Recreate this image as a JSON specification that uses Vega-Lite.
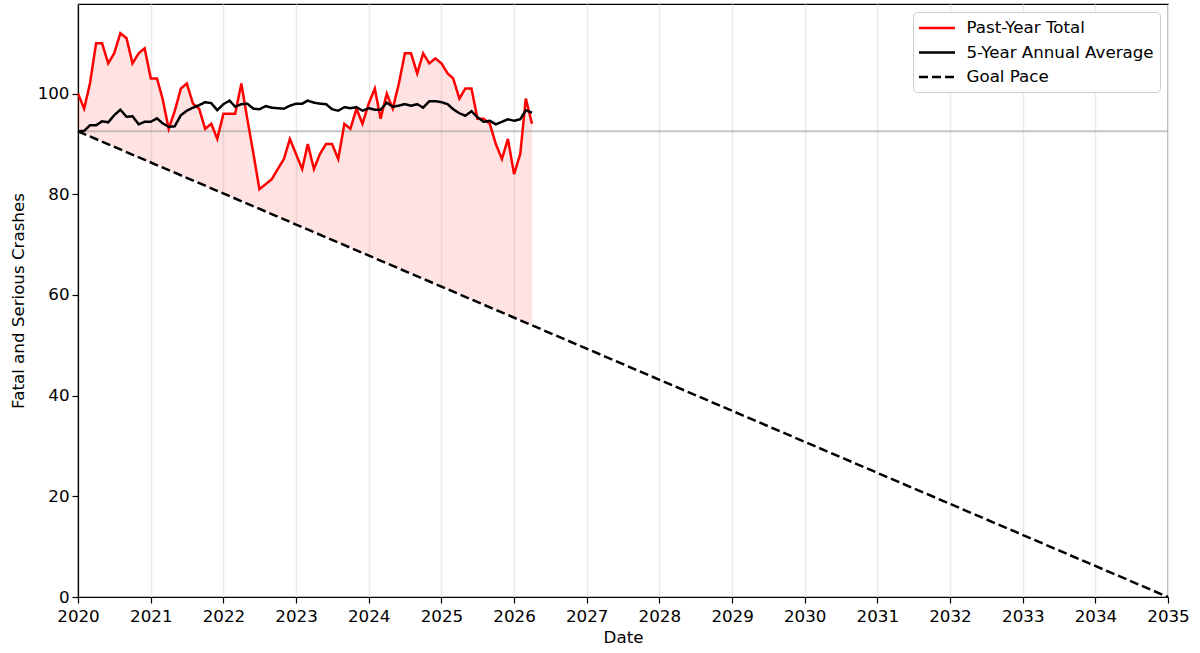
{
  "$schema": "https://vega.github.io/schema/vega-lite/v6.json",
  "width": 1090,
  "height": 593,
  "autosize": "none",
  "padding": {"left": 78, "top": 4, "right": 32, "bottom": 56},
  "background": "white",
  "config": {
    "font": "DejaVu Sans",
    "view": {"stroke": "black", "strokeWidth": 1.2},
    "axis": {
      "labelFont": "DejaVu Sans",
      "titleFont": "DejaVu Sans",
      "labelFontSize": 16.7,
      "titleFontSize": 16.7,
      "titleFontWeight": "normal",
      "labelColor": "black",
      "titleColor": "black",
      "domainColor": "black",
      "tickColor": "black",
      "tickSize": 6,
      "tickWidth": 1.2,
      "domainWidth": 1.2,
      "labelPadding": 3
    },
    "legend": {
      "labelFont": "DejaVu Sans",
      "labelFontSize": 16.7,
      "labelColor": "black"
    }
  },
  "datasets": {
    "monthly": [
      {"date": "2020-01-01", "Past-Year Total": 100, "5-Year Annual Average": 92.5, "goal": 92.5},
      {"date": "2020-02-01", "Past-Year Total": 97, "5-Year Annual Average": 92.6, "goal": 91.99},
      {"date": "2020-03-01", "Past-Year Total": 102, "5-Year Annual Average": 93.7, "goal": 91.47},
      {"date": "2020-04-01", "Past-Year Total": 110, "5-Year Annual Average": 93.7, "goal": 90.96},
      {"date": "2020-05-01", "Past-Year Total": 110, "5-Year Annual Average": 94.5, "goal": 90.44},
      {"date": "2020-06-01", "Past-Year Total": 106, "5-Year Annual Average": 94.3, "goal": 89.93},
      {"date": "2020-07-01", "Past-Year Total": 108, "5-Year Annual Average": 95.7, "goal": 89.42},
      {"date": "2020-08-01", "Past-Year Total": 112, "5-Year Annual Average": 96.8, "goal": 88.90},
      {"date": "2020-09-01", "Past-Year Total": 111, "5-Year Annual Average": 95.4, "goal": 88.39},
      {"date": "2020-10-01", "Past-Year Total": 106, "5-Year Annual Average": 95.5, "goal": 87.88},
      {"date": "2020-11-01", "Past-Year Total": 108, "5-Year Annual Average": 93.9, "goal": 87.36},
      {"date": "2020-12-01", "Past-Year Total": 109, "5-Year Annual Average": 94.4, "goal": 86.85},
      {"date": "2021-01-01", "Past-Year Total": 103, "5-Year Annual Average": 94.4, "goal": 86.33},
      {"date": "2021-02-01", "Past-Year Total": 103, "5-Year Annual Average": 95.1, "goal": 85.82},
      {"date": "2021-03-01", "Past-Year Total": 99, "5-Year Annual Average": 94.1, "goal": 85.31},
      {"date": "2021-04-01", "Past-Year Total": 93, "5-Year Annual Average": 93.4, "goal": 84.79},
      {"date": "2021-05-01", "Past-Year Total": 96.5, "5-Year Annual Average": 93.5, "goal": 84.28},
      {"date": "2021-06-01", "Past-Year Total": 101, "5-Year Annual Average": 95.7, "goal": 83.76},
      {"date": "2021-07-01", "Past-Year Total": 102, "5-Year Annual Average": 96.6, "goal": 83.25},
      {"date": "2021-08-01", "Past-Year Total": 98, "5-Year Annual Average": 97.2, "goal": 82.74},
      {"date": "2021-09-01", "Past-Year Total": 97, "5-Year Annual Average": 97.7, "goal": 82.22},
      {"date": "2021-10-01", "Past-Year Total": 93, "5-Year Annual Average": 98.3, "goal": 81.71},
      {"date": "2021-11-01", "Past-Year Total": 94, "5-Year Annual Average": 98.1, "goal": 81.19},
      {"date": "2021-12-01", "Past-Year Total": 91, "5-Year Annual Average": 96.7, "goal": 80.68},
      {"date": "2022-01-01", "Past-Year Total": 96, "5-Year Annual Average": 97.9, "goal": 80.17},
      {"date": "2022-02-01", "Past-Year Total": 96, "5-Year Annual Average": 98.6, "goal": 79.65},
      {"date": "2022-03-01", "Past-Year Total": 96, "5-Year Annual Average": 97.4, "goal": 79.14},
      {"date": "2022-04-01", "Past-Year Total": 102, "5-Year Annual Average": 97.9, "goal": 78.63},
      {"date": "2022-05-01", "Past-Year Total": 95, "5-Year Annual Average": 98.0, "goal": 78.11},
      {"date": "2022-06-01", "Past-Year Total": 88, "5-Year Annual Average": 97.0, "goal": 77.60},
      {"date": "2022-07-01", "Past-Year Total": 81, "5-Year Annual Average": 96.9, "goal": 77.08},
      {"date": "2022-08-01", "Past-Year Total": 82, "5-Year Annual Average": 97.5, "goal": 76.57},
      {"date": "2022-09-01", "Past-Year Total": 83, "5-Year Annual Average": 97.2, "goal": 76.06},
      {"date": "2022-10-01", "Past-Year Total": 85, "5-Year Annual Average": 97.1, "goal": 75.54},
      {"date": "2022-11-01", "Past-Year Total": 87, "5-Year Annual Average": 97.0, "goal": 75.03},
      {"date": "2022-12-01", "Past-Year Total": 91, "5-Year Annual Average": 97.6, "goal": 74.51},
      {"date": "2023-01-01", "Past-Year Total": 88, "5-Year Annual Average": 98.0, "goal": 74.00},
      {"date": "2023-02-01", "Past-Year Total": 85, "5-Year Annual Average": 98.0, "goal": 73.49},
      {"date": "2023-03-01", "Past-Year Total": 90, "5-Year Annual Average": 98.6, "goal": 72.97},
      {"date": "2023-04-01", "Past-Year Total": 85, "5-Year Annual Average": 98.2, "goal": 72.46},
      {"date": "2023-05-01", "Past-Year Total": 88, "5-Year Annual Average": 98.0, "goal": 71.94},
      {"date": "2023-06-01", "Past-Year Total": 90, "5-Year Annual Average": 97.9, "goal": 71.43},
      {"date": "2023-07-01", "Past-Year Total": 90, "5-Year Annual Average": 96.9, "goal": 70.92},
      {"date": "2023-08-01", "Past-Year Total": 87, "5-Year Annual Average": 96.6, "goal": 70.40},
      {"date": "2023-09-01", "Past-Year Total": 94, "5-Year Annual Average": 97.3, "goal": 69.89},
      {"date": "2023-10-01", "Past-Year Total": 93, "5-Year Annual Average": 97.1, "goal": 69.38},
      {"date": "2023-11-01", "Past-Year Total": 97, "5-Year Annual Average": 97.3, "goal": 68.86},
      {"date": "2023-12-01", "Past-Year Total": 94, "5-Year Annual Average": 96.6, "goal": 68.35},
      {"date": "2024-01-01", "Past-Year Total": 98, "5-Year Annual Average": 97.1, "goal": 67.83},
      {"date": "2024-02-01", "Past-Year Total": 101, "5-Year Annual Average": 96.8, "goal": 67.32},
      {"date": "2024-03-01", "Past-Year Total": 95, "5-Year Annual Average": 96.8, "goal": 66.81},
      {"date": "2024-04-01", "Past-Year Total": 100, "5-Year Annual Average": 98.2, "goal": 66.29},
      {"date": "2024-05-01", "Past-Year Total": 97, "5-Year Annual Average": 97.4, "goal": 65.78},
      {"date": "2024-06-01", "Past-Year Total": 102, "5-Year Annual Average": 97.6, "goal": 65.26},
      {"date": "2024-07-01", "Past-Year Total": 108, "5-Year Annual Average": 97.9, "goal": 64.75},
      {"date": "2024-08-01", "Past-Year Total": 108, "5-Year Annual Average": 97.6, "goal": 64.24},
      {"date": "2024-09-01", "Past-Year Total": 104, "5-Year Annual Average": 97.9, "goal": 63.72},
      {"date": "2024-10-01", "Past-Year Total": 108, "5-Year Annual Average": 97.2, "goal": 63.21},
      {"date": "2024-11-01", "Past-Year Total": 106, "5-Year Annual Average": 98.5, "goal": 62.69},
      {"date": "2024-12-01", "Past-Year Total": 107, "5-Year Annual Average": 98.5, "goal": 62.18},
      {"date": "2025-01-01", "Past-Year Total": 106, "5-Year Annual Average": 98.3, "goal": 61.67},
      {"date": "2025-02-01", "Past-Year Total": 104, "5-Year Annual Average": 97.9, "goal": 61.15},
      {"date": "2025-03-01", "Past-Year Total": 103, "5-Year Annual Average": 96.9, "goal": 60.64},
      {"date": "2025-04-01", "Past-Year Total": 99, "5-Year Annual Average": 96.1, "goal": 60.13},
      {"date": "2025-05-01", "Past-Year Total": 101, "5-Year Annual Average": 95.6, "goal": 59.61},
      {"date": "2025-06-01", "Past-Year Total": 101, "5-Year Annual Average": 96.5, "goal": 59.10},
      {"date": "2025-07-01", "Past-Year Total": 95, "5-Year Annual Average": 95.3, "goal": 58.58},
      {"date": "2025-08-01", "Past-Year Total": 95, "5-Year Annual Average": 94.4, "goal": 58.07},
      {"date": "2025-09-01", "Past-Year Total": 94, "5-Year Annual Average": 94.6, "goal": 57.56},
      {"date": "2025-10-01", "Past-Year Total": 90, "5-Year Annual Average": 93.9, "goal": 57.04},
      {"date": "2025-11-01", "Past-Year Total": 87, "5-Year Annual Average": 94.4, "goal": 56.53},
      {"date": "2025-12-01", "Past-Year Total": 91, "5-Year Annual Average": 94.9, "goal": 56.01},
      {"date": "2026-01-01", "Past-Year Total": 84, "5-Year Annual Average": 94.6, "goal": 55.50},
      {"date": "2026-02-01", "Past-Year Total": 88, "5-Year Annual Average": 94.9, "goal": 54.99},
      {"date": "2026-03-01", "Past-Year Total": 99, "5-Year Annual Average": 96.7, "goal": 54.47},
      {"date": "2026-04-01", "Past-Year Total": 94, "5-Year Annual Average": 96.2, "goal": 53.96}
    ],
    "goalpace": [
      {"date": "2020-01-01", "series": "Goal Pace", "value": 92.5},
      {"date": "2035-01-01", "series": "Goal Pace", "value": 0}
    ],
    "reference": [
      {"level": 92.5}
    ]
  },
  "encoding": {
    "x": {
      "field": "date",
      "type": "temporal",
      "title": "Date",
      "scale": {"domain": ["2020-01-01", "2035-01-01"], "nice": false},
      "axis": {
        "format": "%Y",
        "tickCount": {"interval": "year", "step": 1},
        "grid": true,
        "gridColor": "#ebebeb",
        "gridWidth": 1.5,
        "labelFlush": false,
        "labelOverlap": false,
        "labelPadding": 5,
        "titlePadding": 5
      }
    }
  },
  "layer": [
    {
      "data": {"name": "monthly"},
      "mark": {"type": "area", "color": "#ff0000", "opacity": 0.11, "interpolate": "linear"},
      "encoding": {
        "y": {
          "field": "Past-Year Total",
          "type": "quantitative",
          "scale": {"domain": [0, 117.8], "nice": false, "zero": true},
          "axis": {"values": [0, 20, 40, 60, 80, 100], "grid": false, "title": "Fatal and Serious Crashes", "titlePadding": 10}
        },
        "y2": {"field": "goal"}
      }
    },
    {
      "data": {"name": "reference"},
      "mark": {"type": "rule", "color": "#9e9e9e", "strokeWidth": 2, "opacity": 0.6},
      "encoding": {
        "x": null,
        "y": {"field": "level", "type": "quantitative"}
      }
    },
    {
      "data": {"name": "monthly"},
      "transform": [
        {"fold": ["Past-Year Total", "5-Year Annual Average"], "as": ["series", "value"]}
      ],
      "mark": {"type": "line", "strokeWidth": 2.5},
      "encoding": {
        "y": {"field": "value", "type": "quantitative"},
        "color": {
          "field": "series",
          "type": "nominal",
          "scale": {"domain": ["Past-Year Total", "5-Year Annual Average", "Goal Pace"], "range": ["#ff0000", "#000000", "#000000"]},
          "legend": {
            "title": null,
            "orient": "top-right",
            "offset": 8,
            "fillColor": "white",
            "strokeColor": "#cccccc",
            "cornerRadius": 4,
            "padding": 5.5,
            "symbolType": "M-2,0L2,0",
            "symbolSize": 324,
            "symbolStrokeWidth": 2.5,
            "symbolOffset": 8,
            "labelOffset": 19,
            "rowPadding": 4.5,
            "labelLimit": 400
          }
        },
        "strokeDash": {
          "field": "series",
          "type": "nominal",
          "scale": {"domain": ["Past-Year Total", "5-Year Annual Average", "Goal Pace"], "range": [[1, 0], [1, 0], [9, 4]]}
        },
        "order": {"field": "date", "type": "temporal"}
      }
    },
    {
      "data": {"name": "goalpace"},
      "mark": {"type": "line", "strokeWidth": 2.5},
      "encoding": {
        "y": {"field": "value", "type": "quantitative"},
        "color": {"field": "series", "type": "nominal"},
        "strokeDash": {"field": "series", "type": "nominal"}
      }
    }
  ]
}
